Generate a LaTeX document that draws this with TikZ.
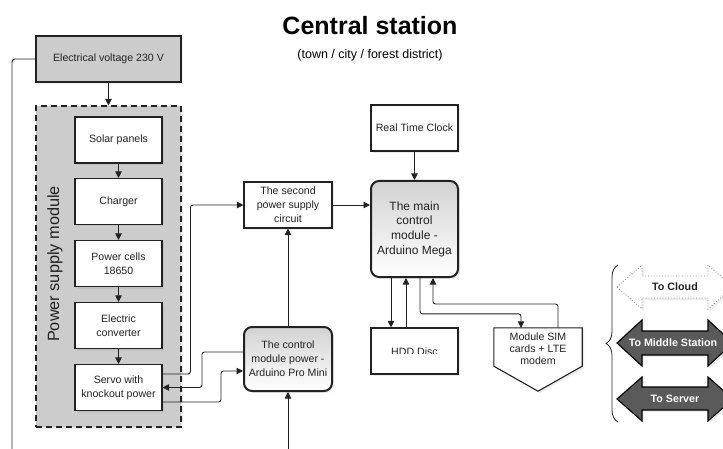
\documentclass[tikz,border=0pt]{standalone}
\usepackage{fontspec}
\setmainfont{Liberation Sans}
\usetikzlibrary{arrows.meta,shadows,decorations.pathreplacing,calc}
\definecolor{ink}{HTML}{222222}
\definecolor{boxgray}{HTML}{CCCCCC}
\definecolor{arrowgray}{HTML}{5A5A5A}
\begin{document}
\begin{tikzpicture}[x=1pt,y=-1pt,
  txt/.style={font=\fontsize{10.6}{13.8}\selectfont, text=ink},
  shad/.style={drop shadow={opacity=0.15,shadow xshift=2pt,shadow yshift=-2pt}},
  box/.style={txt, draw=ink, line width=1.1pt, fill=white, minimum width=87pt, minimum height=46pt, inner sep=1pt, align=center, shad},
  graybox/.style={box, fill=boxgray},
  psmbox/.style={draw=ink, line width=1.1pt, dash pattern=on 6pt off 4pt, fill=boxgray, inner sep=0pt, shad},
  rbox/.style={box, rounded corners=8pt, line width=2pt, top color=gray!35, bottom color=white},
  conn/.style={draw=ink, line width=0.9pt, -{Triangle[length=6.5pt,width=6.5pt]}},
  plain/.style={draw=ink, line width=0.9pt},
  darrow/.style={draw=black, line width=1.1pt, fill=arrowgray, shad},
  lightarrow/.style={draw=gray, line width=0.8pt, dotted, fill=white, shad},
  alabel/.style={font=\bfseries\fontsize{10.7}{12}\selectfont, text=white},
]
\useasboundingbox (0,0) rectangle (723,449);

% titles
\node[font=\bfseries\fontsize{25}{28}\selectfont, anchor=base] (title) at (370,35) {Central station};
\node[font=\fontsize{12.5}{14}\selectfont, anchor=base] (subtitle) at (370,59) {(town / city / forest district)};

% left column
\node[graybox, minimum width=145pt] (ev) at (108.5,59) {Electrical voltage 230 V};
\node[psmbox, minimum width=145pt, minimum height=321pt] (psm) at (108.5,266.5) {};
\node[rotate=90, font=\fontsize{16.3}{18}\selectfont, text=ink] (psmlabel) at (55,264) {Power supply module};
\node[box] (solar) at (118.5,140) {Solar panels};
\node[box] (charger) at (118.5,201.5) {Charger};
\node[box] (cells) at (118.5,263.5) {Power cells\\18650};
\node[box] (conv) at (118.5,325.5) {Electric\\converter};
\node[box] (servo) at (118.5,387.5) {Servo with\\knockout power};

% middle column
\node[box, minimum width=88pt] (second) at (288,205) {The second\\power supply\\circuit};
\node[rbox, minimum width=88pt, minimum height=64pt] (cm) at (288,359) {The control\\module power -\\Arduino Pro Mini};

% right column
\node[box] (rtc) at (414.5,128) {Real Time Clock};
\node[rbox, minimum height=96pt, font=\fontsize{12}{14.7}\selectfont] (main) at (414.5,229) {The main\\control\\module -\\Arduino Mega};
\node[box] (hdd) at (414.5,351) {};
\begin{scope}
  \clip (371,340) rectangle (458,353.5);
  \node[txt, anchor=base] (hddtext) at (414.5,355) {HDD Disc};
\end{scope}
\node[txt, minimum width=88pt, minimum height=38pt, inner sep=0pt, align=center] (sim) at (538,347) {};
\path[draw=ink, line width=1.1pt, fill=white, shad]
  (sim.north west) -- (sim.north east) -- (sim.south east) -- ([yshift=-25pt]sim.south) -- (sim.south west) -- cycle;
\node[font=\fontsize{10.6}{12.2}\selectfont, text=ink, align=center] (simtext) at (538,349) {Module SIM\\cards + LTE\\modem};

% connectors left
\coordinate (lb) at (12,449);
\draw[plain, rounded corners=3pt] (ev.west) -| (lb);
\draw[conn] (ev) -- (psm);
\draw[conn] (solar) -- (charger);
\draw[conn] (charger) -- (cells);
\draw[conn] (cells) -- (conv);
\draw[conn] (conv) -- (servo);

% connectors middle
\draw[conn, rounded corners=2.5pt] ([yshift=13.5pt]servo.east) -| ([xshift=-53pt]second.west) -- (second.west);
\draw[conn] (second.east) -- (second.east -| main.west);
\draw[conn] (cm) -- (second);
\draw[conn, rounded corners=2.5pt] ([yshift=7pt]cm.west) -- ++(-41,0) |- (servo.east);
\draw[conn, rounded corners=2.5pt] ([yshift=-14.5pt]servo.east) -| ([xshift=-22pt,yshift=-12pt]cm.west) -- ([yshift=-12pt]cm.west);
\coordinate (bt) at (288,449);
\draw[conn] (bt) -- (cm);

% connectors right
\draw[conn] (rtc) -- (main);
\draw[conn] ([xshift=-23.5pt]main.south) -- ([xshift=-23.5pt]hdd.north);
\draw[conn] ([xshift=-8.5pt]hdd.north) -- ([xshift=-8.5pt]main.south);
\draw[conn, rounded corners=2.5pt] ([xshift=5.5pt]main.south) |- ([xshift=-17pt,yshift=14pt]sim.north) -- ([xshift=-17pt]sim.north);
\draw[conn, rounded corners=2.5pt] ([xshift=20pt]sim.north) |- ([xshift=18.5pt,yshift=-26pt]main.south) -- ([xshift=18.5pt]main.south);

% brace
\draw[plain, line width=0.8pt, decorate, decoration={brace, amplitude=12pt}] (618,422) -- (618,265);

% double arrows
\path[lightarrow] (617,287) -- (642,265) -- (642,276) -- (708,276) -- (708,265) -- (733,287) -- (708,309) -- (708,298) -- (642,298) -- (642,309) -- cycle;
\node[font=\bfseries\fontsize{10.7}{12}\selectfont, text=ink] (cloud) at (675,287) {To Cloud};
\path[darrow] (617,343) -- (642,320) -- (642,331) -- (708,331) -- (708,320) -- (733,343) -- (708,366) -- (708,355) -- (642,355) -- (642,366) -- cycle;
\node[alabel] (middle) at (673,343) {To Middle Station};
\path[darrow] (617,399) -- (642,377) -- (642,387) -- (708,387) -- (708,377) -- (733,399) -- (708,421) -- (708,410) -- (642,410) -- (642,421) -- cycle;
\node[alabel] (server) at (675,399) {To Server};
\end{tikzpicture}
\end{document}
